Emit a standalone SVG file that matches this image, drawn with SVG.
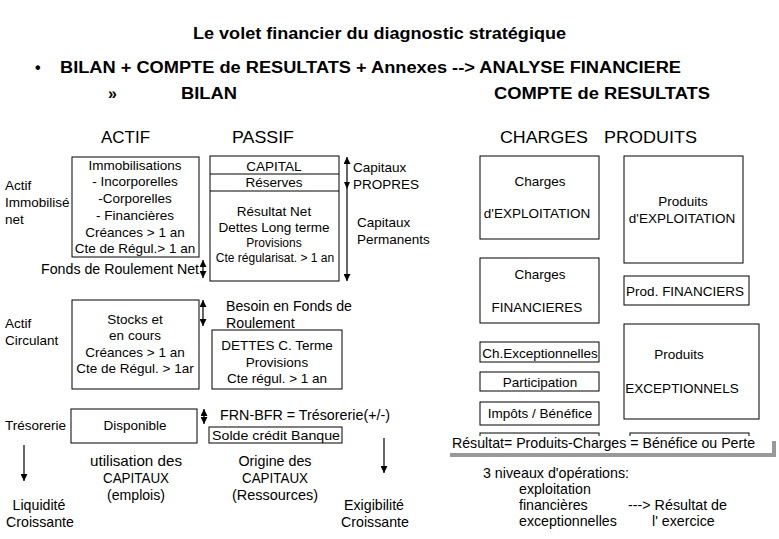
<svg xmlns="http://www.w3.org/2000/svg" width="779" height="539" viewBox="0 0 779 539">
<style>
text{font-family:"Liberation Sans",Arial,sans-serif;font-size:14.2px;fill:#000}
.k{font-size:13.5px}
.b{font-weight:bold;font-size:16px}
.h{font-size:17px}
.m{text-anchor:middle}
.s{font-size:12px}
.box{fill:#fff;stroke:#000;stroke-width:1}
.ar{stroke:#000;stroke-width:1.2;fill:none}
</style>
<defs>
<marker id="ah" viewBox="0 0 8 8" refX="8" refY="4" markerWidth="7" markerHeight="7" markerUnits="userSpaceOnUse" orient="auto-start-reverse"><path d="M0,0 L8,4 L0,8 z" fill="#000"/></marker>
</defs>
<rect width="779" height="539" fill="#fff"/>

<g id="titles">
<text class="b" x="193" y="39" textLength="373" lengthAdjust="spacingAndGlyphs">Le volet financier du diagnostic stratégique</text>
<text class="b" x="35" y="73">•</text>
<text class="b" x="60" y="73" textLength="621" lengthAdjust="spacingAndGlyphs">BILAN + COMPTE de RESULTATS + Annexes --&gt; ANALYSE FINANCIERE</text>
<text class="b" x="108" y="99">»</text>
<text class="b" x="181" y="99" textLength="56" lengthAdjust="spacingAndGlyphs">BILAN</text>
<text class="b" x="494" y="99" textLength="216" lengthAdjust="spacingAndGlyphs">COMPTE de RESULTATS</text>
<text class="h" x="101" y="143" textLength="49" lengthAdjust="spacingAndGlyphs">ACTIF</text>
<text class="h" x="232" y="143" textLength="62" lengthAdjust="spacingAndGlyphs">PASSIF</text>
<text class="h" x="500" y="143" textLength="88" lengthAdjust="spacingAndGlyphs">CHARGES</text>
<text class="h" x="604" y="143" textLength="93" lengthAdjust="spacingAndGlyphs">PRODUITS</text>
</g>

<g id="labels-left">
<text class="k" x="5" y="190">Actif</text>
<text class="k" x="5" y="207">Immobilisé</text>
<text class="k" x="5" y="224">net</text>
<text x="41" y="274" textLength="158" lengthAdjust="spacingAndGlyphs">Fonds de Roulement Net</text>
<text class="k" x="5" y="328">Actif</text>
<text class="k" x="5" y="345">Circulant</text>
<text class="k" x="5" y="430">Trésorerie</text>
<text class="m" x="39" y="510">Liquidité</text>
<text class="m" x="40" y="527">Croissante</text>
<text class="m" x="136" y="466" textLength="92" lengthAdjust="spacingAndGlyphs">utilisation des</text>
<text class="m" x="136" y="483" textLength="66" lengthAdjust="spacingAndGlyphs">CAPITAUX</text>
<text class="m" x="136" y="500" textLength="58" lengthAdjust="spacingAndGlyphs">(emplois)</text>
<text class="m" x="275" y="466" textLength="73" lengthAdjust="spacingAndGlyphs">Origine des</text>
<text class="m" x="275" y="483" textLength="66" lengthAdjust="spacingAndGlyphs">CAPITAUX</text>
<text class="m" x="275" y="500" textLength="86" lengthAdjust="spacingAndGlyphs">(Ressources)</text>
<text class="m" x="374" y="510">Exigibilité</text>
<text class="m" x="375" y="527">Croissante</text>
</g>

<g id="immobilisations">
<rect class="box" x="72" y="157" width="127" height="100"/>
<text class="m k" x="135" y="170">Immobilisations</text>
<text class="m k" x="135" y="186">- Incorporelles</text>
<text class="m k" x="135" y="203">-Corporelles</text>
<text class="m k" x="135" y="220">- Financières</text>
<text class="m k" x="135" y="237">Créances &gt; 1 an</text>
<text class="m k" x="135" y="253">Cte de Régul.&gt; 1 an</text>
</g>

<g id="passif-permanent">
<rect class="box" x="210" y="156" width="129" height="125"/>
<line x1="210" y1="174" x2="339" y2="174" stroke="#000"/>
<line x1="210" y1="191" x2="339" y2="191" stroke="#000"/>
<text class="m k" x="274" y="171">CAPITAL</text>
<text class="m k" x="274" y="187">Réserves</text>
<text class="m k" x="274" y="216">Résultat Net</text>
<text class="m k" x="274" y="232">Dettes Long terme</text>
<text class="m s" x="274" y="247">Provisions</text>
<text class="m s" x="275" y="262">Cte régularisat. &gt; 1 an</text>
</g>

<g id="capitaux-labels">
<text class="k" x="353" y="172">Capitaux</text>
<text class="k" x="353" y="189">PROPRES</text>
<text class="k" x="357" y="227">Capitaux</text>
<text class="k" x="357" y="244">Permanents</text>
</g>

<g id="actif-circulant">
<rect class="box" x="72" y="300" width="127" height="89"/>
<text class="m k" x="135" y="324">Stocks et</text>
<text class="m k" x="135" y="340">en cours</text>
<text class="m k" x="135" y="357">Créances &gt; 1 an</text>
<text class="m k" x="135" y="373">Cte de Régul. &gt; 1ar</text>
</g>

<g id="bfr-label">
<text x="226" y="311" textLength="126" lengthAdjust="spacingAndGlyphs">Besoin en Fonds de</text>
<text x="226" y="328">Roulement</text>
</g>

<g id="dettes-ct">
<rect class="box" x="212" y="330" width="130" height="59"/>
<text class="m k" x="277" y="350">DETTES C. Terme</text>
<text class="m k" x="277" y="367">Provisions</text>
<text class="m k" x="277" y="383">Cte régul. &gt; 1 an</text>
</g>

<g id="disponible">
<rect class="box" x="71" y="409" width="126" height="34"/>
<text class="m k" x="135" y="430">Disponible</text>
</g>

<g id="tresorerie">
<text x="220" y="420" textLength="170" lengthAdjust="spacingAndGlyphs">FRN-BFR = Trésorerie(+/-)</text>
<rect class="box" x="209" y="427" width="133" height="16"/>
<text class="k" x="212" y="440" textLength="128" lengthAdjust="spacingAndGlyphs">Solde crédit Banque</text>
</g>

<g id="ch-exploitation">
<rect class="box" x="480" y="156" width="119" height="83"/>
<text class="m k" x="540" y="186">Charges</text>
<text class="m k" x="537" y="218">d'EXPLOITATION</text>
</g>
<g id="pr-exploitation">
<rect class="box" x="624" y="156" width="119" height="107"/>
<text class="m k" x="683" y="206">Produits</text>
<text class="m k" x="682" y="223">d'EXPLOITATION</text>
</g>
<g id="ch-financieres">
<rect class="box" x="480" y="258" width="119" height="65"/>
<text class="m k" x="540" y="279">Charges</text>
<text class="m k" x="537" y="312">FINANCIERES</text>
</g>
<g id="pr-financiers">
<rect class="box" x="624" y="276" width="125" height="29"/>
<text class="m k" x="685" y="296">Prod. FINANCIERS</text>
</g>
<g id="ch-exceptionnelles">
<rect class="box" x="480" y="342" width="119" height="20"/>
<text class="m k" x="540" y="358">Ch.Exceptionnelles</text>
</g>
<g id="participation">
<rect class="box" x="480" y="372" width="119" height="19"/>
<text class="m k" x="540" y="387">Participation</text>
</g>
<g id="impots">
<rect class="box" x="480" y="402" width="119" height="23"/>
<text class="m k" x="540" y="418">Impôts / Bénéfice</text>
</g>
<g id="pr-exceptionnels">
<rect class="box" x="624" y="324" width="135" height="95"/>
<text class="m k" x="679" y="359">Produits</text>
<text class="m k" x="682" y="393">EXCEPTIONNELS</text>
</g>
<g id="hidden-boxes">
<rect class="box" x="480" y="433" width="119" height="12"/>
<rect class="box" x="630" y="433" width="119" height="12"/>
</g>

<g id="resultat">
<rect x="450" y="441" width="326" height="16" fill="#999"/>
<rect x="446" y="436" width="326" height="17" fill="#fff"/>
<text x="452" y="448" textLength="303" lengthAdjust="spacingAndGlyphs">Résultat= Produits-Charges = Bénéfice ou Perte</text>
</g>

<g id="niveaux">
<text x="483" y="478" textLength="146" lengthAdjust="spacingAndGlyphs">3 niveaux d'opérations:</text>
<text x="519" y="494">exploitation</text>
<text x="519" y="510">financières</text>
<text x="519" y="526">exceptionnelles</text>
<text x="628" y="510" textLength="99" lengthAdjust="spacingAndGlyphs">---&gt; Résultat de</text>
<text x="652" y="526">l' exercice</text>
</g>

<g id="connectors">
<line class="ar" x1="203" y1="260" x2="203" y2="278" marker-start="url(#ah)" marker-end="url(#ah)"/>
<line class="ar" x1="203" y1="300" x2="203" y2="326" marker-start="url(#ah)" marker-end="url(#ah)"/>
<line class="ar" x1="204" y1="409" x2="204" y2="424" marker-start="url(#ah)" marker-end="url(#ah)"/>
<line class="ar" x1="347" y1="157" x2="347" y2="281" marker-start="url(#ah)" marker-end="url(#ah)"/>
<path d="M344,182 L350,182 L347,189 z" fill="#000"/>
<line class="ar" x1="24" y1="445" x2="24" y2="481" marker-end="url(#ah)"/>
<line class="ar" x1="384" y1="438" x2="384" y2="473" marker-end="url(#ah)"/>
</g>
</svg>
